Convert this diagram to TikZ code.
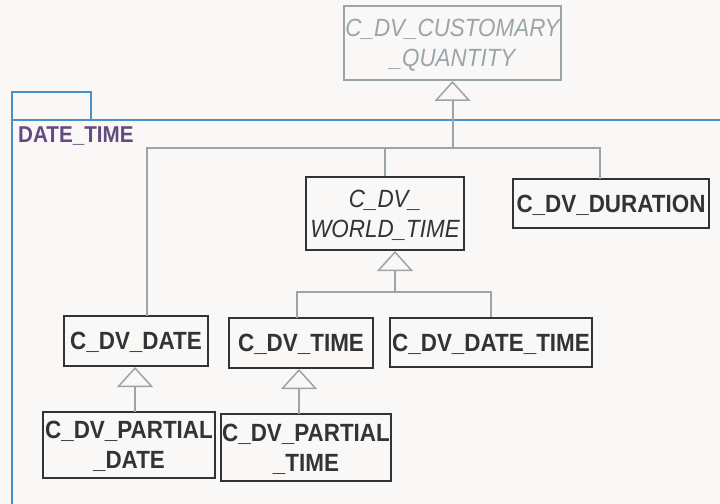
\documentclass[tikz,border=0pt]{standalone}
\usepackage{fontspec}
\setmainfont{Liberation Sans}[FakeStretch=0.9]
\usetikzlibrary{arrows.meta,calc}
\definecolor{bg}{HTML}{F9F8F7}
\definecolor{pkg}{HTML}{4A90C8}
\definecolor{pkgtxt}{HTML}{644A7F}
\definecolor{gline}{HTML}{9AA5AB}
\definecolor{dark}{HTML}{333333}
\tikzset{
  cls/.style={draw=dark, line width=2bp, fill=bg, inner sep=0pt, align=center,
    text=dark, text depth=0pt, font=\fontsize{25}{30}\selectfont\bfseries},
  abs/.style={cls, font=\fontsize{25}{30}\selectfont\itshape},
  gabs/.style={abs, draw=gline, text=gline},
  gen/.style={draw=gline, line width=2bp, -{Triangle[open, width=36bp, length=20bp, fill=bg, line width=1.5bp]}},
  lnk/.style={draw=gline, line width=2bp},
}
\begin{document}
\begin{tikzpicture}[x=1bp,y=-1bp]
\fill[bg] (0,0) rectangle (720,504);
\useasboundingbox (0,0) rectangle (720,504);
% package
\draw[pkg, line width=2bp] (12,120) -- (12,92) -- (91,92) -- (91,120);
\draw[pkg, line width=2bp] (12,506) -- (12,120) -- (722,120);
\node[anchor=west, text=pkgtxt, font=\fontsize{23}{26}\selectfont\bfseries, inner sep=0pt] (pkgname) at (18,136) {DATE\_TIME};
% classes
\node[gabs, minimum width=217bp, minimum height=74bp] (cq) at (452.5,43) {C\_DV\_CUSTOMARY\\\_QUANTITY};
\node[abs, minimum width=158bp, minimum height=73bp] (wt) at (385,213.5) {C\_DV\_\\WORLD\_TIME};
\node[cls, minimum width=196bp, minimum height=49bp] (dur) at (611,203.5) {C\_DV\_DURATION};
\node[cls, minimum width=144bp, minimum height=50bp] (date) at (136,341) {C\_DV\_DATE};
\node[cls, minimum width=144bp, minimum height=50bp] (time) at (301,343) {C\_DV\_TIME};
\node[cls, minimum width=202bp, minimum height=49bp] (dt) at (491,342.5) {C\_DV\_DATE\_TIME};
\node[cls, minimum width=172bp, minimum height=66bp] (pd) at (129,445) {C\_DV\_PARTIAL\\\_DATE};
\node[cls, minimum width=170bp, minimum height=67bp] (pt) at (306,447.5) {C\_DV\_PARTIAL\\\_TIME};
% generalisation to CUSTOMARY_QUANTITY
\coordinate (j1) at (452.5,148);
\coordinate (dateTop) at (147,316);
\coordinate (durTop) at (600,179);
\draw[lnk] (dateTop) |- (durTop |- j1) -- (durTop);
\draw[lnk] (wt.north) -- (wt.north |- j1);
\draw[gen] (j1) -- (cq.south);
% generalisation to WORLD_TIME
\coordinate (j2) at (395,292);
\coordinate (timeTop) at (297,318);
\draw[lnk] (timeTop) |- (dt.north |- j2) -- (dt.north);
\draw[gen] (j2) -- (wt.south -| j2);
% partial
\coordinate (pdTop) at (135,412);
\coordinate (ptTop) at (299,414);
\draw[gen] (pdTop) -- (pdTop |- date.south);
\draw[gen] (ptTop) -- (ptTop |- time.south);
\end{tikzpicture}
\end{document}
